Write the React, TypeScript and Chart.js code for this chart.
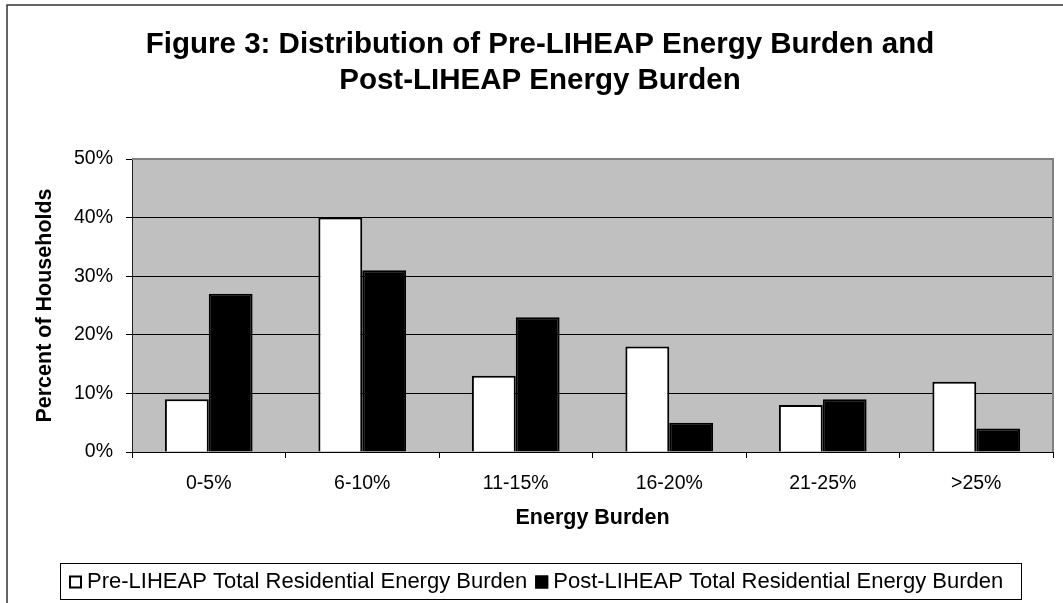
import React, { useEffect, useRef } from 'react';
import { Chart, registerables } from 'chart.js';

Chart.register(...registerables);

const categories = ['0-5%', '6-10%', '11-15%', '16-20%', '21-25%', '>25%'];
const preLiheap = [9, 40, 13, 18, 8, 12];
const postLiheap = [27, 31, 23, 5, 9, 4];
const seriesNames = [
  'Pre-LIHEAP Total Residential Energy Burden',
  'Post-LIHEAP Total Residential Energy Burden',
];
const seriesColors = ['#ffffff', '#000000'];
const titleLines = [
  'Figure 3: Distribution of Pre-LIHEAP Energy Burden and',
  'Post-LIHEAP Energy Burden',
];
const yAxisTitle = 'Percent of Households';
const xAxisTitle = 'Energy Burden';
const yMin = 0;
const yMax = 50;
const yStep = 10;

const FONT = '"Liberation Sans", Arial, Helvetica, sans-serif';

const backgroundPlugin = {
  id: 'bgFrame',
  beforeDraw(chart: any) {
    const { ctx, chartArea, width, height } = chart;
    ctx.save();
    ctx.fillStyle = '#ffffff';
    ctx.fillRect(0, 0, width, height);
    ctx.fillStyle = '#c0c0c0';
    ctx.fillRect(chartArea.left, chartArea.top, chartArea.right - chartArea.left, chartArea.bottom - chartArea.top);
    // outer frame (top and left edges)
    ctx.strokeStyle = '#333333';
    ctx.lineWidth = 1.5;
    ctx.beginPath();
    ctx.moveTo(7, height);
    ctx.lineTo(7, 5);
    ctx.lineTo(width, 5);
    ctx.stroke();
    ctx.restore();
  },
  beforeDatasetsDraw(chart: any) {
    const { ctx, chartArea } = chart;
    ctx.save();
    ctx.strokeStyle = '#808080';
    ctx.lineWidth = 2;
    ctx.beginPath();
    ctx.moveTo(chartArea.left, chartArea.top);
    ctx.lineTo(chartArea.right, chartArea.top);
    ctx.lineTo(chartArea.right, chartArea.bottom);
    ctx.stroke();
    ctx.restore();
  },
};

const titlePlugin = {
  id: 'frameTitle',
  afterDraw(chart: any) {
    const { ctx } = chart;
    ctx.save();
    ctx.font = `bold 29.5px ${FONT}`;
    ctx.fillStyle = '#000';
    ctx.textAlign = 'center';
    ctx.textBaseline = 'middle';
    titleLines.forEach((line, i) => {
      ctx.fillText(line, 540, 44.5 + i * 36);
    });
    ctx.restore();
  },
};

const legendPlugin = {
  id: 'boxLegend',
  afterDraw(chart: any) {
    const { ctx } = chart;
    const boxL = 60, boxT = 563, boxR = 1021, boxB = 599;
    ctx.save();
    ctx.strokeStyle = '#000000';
    ctx.lineWidth = 1;
    ctx.strokeRect(boxL + 0.5, boxT + 0.5, boxR - boxL, boxB - boxT);
    ctx.font = `22px ${FONT}`;
    ctx.textBaseline = 'middle';
    ctx.fillStyle = '#000';
    const cy = (boxT + boxB) / 2 + 0.5;
    let x = 69;
    chart.data.datasets.forEach((ds: any) => {
      ctx.fillStyle = ds.backgroundColor;
      ctx.fillRect(x, cy - 6, 13, 13);
      ctx.strokeStyle = '#000';
      ctx.lineWidth = 2;
      ctx.strokeRect(x + 1, cy - 5, 11, 11);
      ctx.fillStyle = '#000';
      ctx.textAlign = 'left';
      ctx.fillText(ds.label, x + 18, cy);
      x = x + 18 + ctx.measureText(ds.label).width + 8;
    });
    ctx.restore();
  },
};

export default function App() {
  const canvasRef = useRef<HTMLCanvasElement | null>(null);

  useEffect(() => {
    document.body.style.margin = '0';
    const canvas = canvasRef.current;
    if (!canvas) return;
    const chart = new Chart(canvas, {
      type: 'bar',
      data: {
        labels: categories,
        datasets: [
          {
            label: seriesNames[0],
            data: preLiheap,
            backgroundColor: seriesColors[0],
            borderColor: '#000000',
            borderWidth: 2,
            barPercentage: 1,
            categoryPercentage: 0.5714,
          },
          {
            label: seriesNames[1],
            data: postLiheap,
            backgroundColor: seriesColors[1],
            borderColor: '#000000',
            borderWidth: 2,
            barPercentage: 1,
            categoryPercentage: 0.5714,
          },
        ],
      },
      options: {
        responsive: false,
        animation: false,
        devicePixelRatio: 1,
        layout: { padding: { left: 8, right: 10, top: 159, bottom: 61 } },
        plugins: {
          legend: { display: false },
          tooltip: { enabled: false },
          title: { display: false },
        },
        scales: {
          x: {
            afterFit: (s: any) => { s.height = 90; },
            grid: {
              display: true,
              drawOnChartArea: false,
              drawTicks: true,
              tickLength: 6,
              tickColor: '#000',
              offset: true,
            },
            border: { display: true, color: '#000', width: 1 },
            ticks: { color: '#000', font: { family: FONT, size: 19.5 }, padding: 14, maxRotation: 0 },
            title: {
              display: true,
              text: xAxisTitle,
              color: '#000',
              font: { family: FONT, size: 21.5, weight: 'bold' },
              padding: { top: 0, bottom: 11 },
            },
          },
          y: {
            min: yMin,
            max: yMax,
            afterFit: (s: any) => { s.width = 124; },
            grid: {
              color: '#000',
              lineWidth: 1,
              drawTicks: true,
              tickLength: 6,
              tickColor: '#000',
            },
            border: { display: true, color: '#222', width: 1 },
            ticks: {
              stepSize: yStep,
              color: '#000',
              font: { family: FONT, size: 19.5 },
              padding: 13,
              callback: (v: any) => `${v}%`,
            },
            title: {
              display: true,
              text: yAxisTitle,
              color: '#000',
              font: { family: FONT, size: 21.5, weight: 'bold' },
              padding: { top: 24, bottom: 0 },
            },
          },
        },
      },
      plugins: [backgroundPlugin, titlePlugin, legendPlugin],
    } as any);
    return () => chart.destroy();
  }, []);

  return (
    <div style={{ width: 1063, height: 603 }}>
      <canvas ref={canvasRef} width={1063} height={603} style={{ display: 'block' }} />
    </div>
  );
}
